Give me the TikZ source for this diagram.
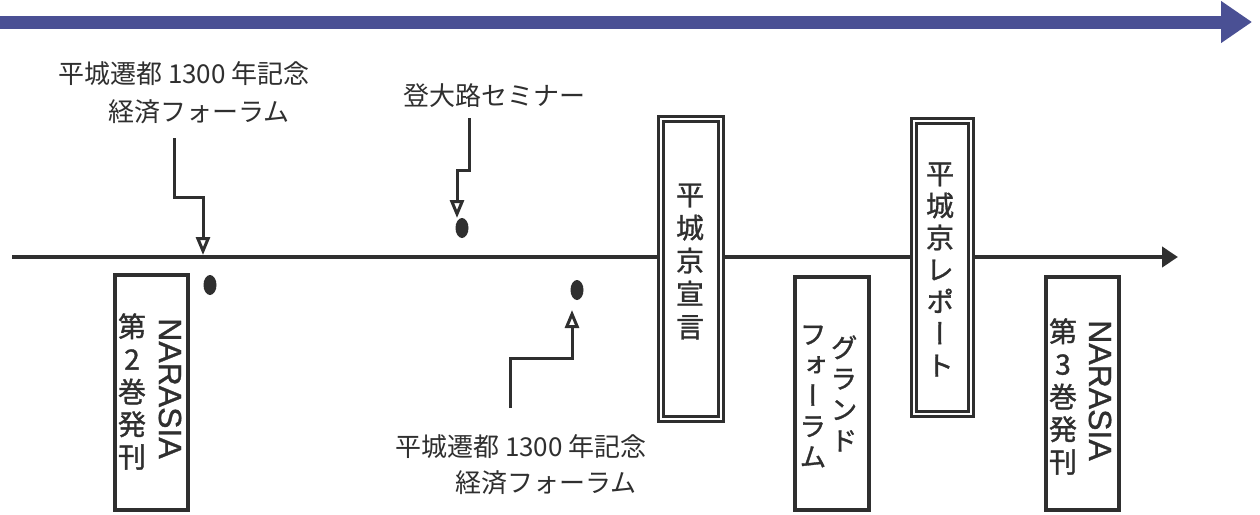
\documentclass[tikz,border=0pt]{standalone}
\usepackage{fontspec}
\setmainfont{Noto Sans CJK JP}
\newfontfamily\jp{Noto Sans CJK JP}
\newfontfamily\jpv[RawFeature=+vert,FakeBold=1.2]{Noto Sans CJK JP}
\newfontfamily\lat[FakeBold=1]{Liberation Sans}
\usetikzlibrary{arrows.meta,shapes.geometric}
\definecolor{ink}{HTML}{2F2F2F}
\definecolor{bandc}{HTML}{4A5094}
\begin{document}
\begin{tikzpicture}[x=1pt,y=-1pt,
  bandline/.style={draw=bandc, line width=13pt, -{Triangle[width=40pt,length=31pt]}},
  tline/.style={draw=ink, line width=4pt, -{Triangle[width=20pt,length=16pt]}},
  conn/.style={draw=ink, line width=3pt, -{Triangle[open,width=14pt,length=18pt]}},
  dotm/.style={ellipse, fill=ink, minimum width=13pt, minimum height=20pt, inner sep=0pt},
  sbox/.style={rectangle, draw=ink, line width=4.5pt, fill=white, inner sep=0pt},
  dbox/.style={rectangle, draw=ink, double=white, double distance=2.5pt, line width=2.8pt, fill=white, inner sep=0pt},
  vtxt/.style={align=center, inner sep=0pt, text=ink},
  rtxt/.style={rotate=-90, inner sep=0pt, text=ink, font=\fontsize{32}{32}\selectfont\lat},
  lbl/.style={align=left, inner sep=0pt, text=ink}]
\useasboundingbox (0,0) rectangle (1260,514);
\fill[white] (0,0) rectangle (1260,514);

% top band arrow
\coordinate (bandA) at (0,22);
\coordinate (bandB) at (1252,22);
\draw[bandline] (bandA) -- (bandB);

% timeline
\coordinate (tlA) at (12,257);
\coordinate (tlB) at (1178,257);
\draw[tline] (tlA) -- (tlB);

% dots
\node[dotm] (dot1) at (210,285) {};
\node[dotm] (dot2) at (462,228) {};
\node[dotm] (dot3) at (577,290) {};

% labels
\node[lbl, anchor=north west, font=\fontsize{26}{38}\selectfont\jp] (lab1) at (58,61)
  {平城遷都 1300 年記念\\\hspace*{50pt}経済フォーラム};
\node[lbl, anchor=west, font=\fontsize{26}{38}\selectfont\jp] (lab2) at (403,96) {登大路セミナー};
\node[lbl, anchor=north west, font=\fontsize{26}{36}\selectfont\jp] (lab3) at (395,434)
  {平城遷都 1300 年記念\\\hspace*{60pt}経済フォーラム};

% connectors
\coordinate (c1a) at (174,138);
\coordinate (c1b) at (203,255);
\draw[conn] (c1a) -- ++(0,59) -| (c1b);
\coordinate (c2a) at (469,118);
\coordinate (c2b) at (457,218);
\draw[conn] (c2a) -- ++(0,52) -| (c2b);
\coordinate (c3a) at (510,408);
\coordinate (c3b) at (572,310);
\draw[conn] (c3a) -- ++(0,-50) -| (c3b);

% boxes
\node[sbox, minimum width=73pt, minimum height=235pt] (box1) at (151.5,392.5) {};
\node[dbox, minimum width=60pt, minimum height=300pt] (box2) at (691,269) {};
\node[sbox, minimum width=74pt, minimum height=233pt] (box4) at (832,393.5) {};
\node[dbox, minimum width=57pt, minimum height=293pt] (box3) at (942.5,267.5) {};
\node[sbox, minimum width=73pt, minimum height=233pt] (box5) at (1082.5,393.5) {};

% box texts
\node[rtxt] (n1) at (170,388.5) {NARASIA};
\node[vtxt, font=\fontsize{28}{32.6}\selectfont\jpv] (v1) at (132,391.5) {第\\2\\巻\\発\\刊};
\node[vtxt, font=\fontsize{28}{33}\selectfont\jpv] (v2) at (690,261.5) {平\\城\\京\\宣\\言};
\node[vtxt, font=\fontsize{27}{31}\selectfont\jpv] (v4a) at (844,393.5) {グ\\ラ\\ン\\ド};
\node[vtxt, font=\fontsize{27}{30.6}\selectfont\jpv] (v4b) at (813,396.5) {フ\\ォ\\ー\\ラ\\ム};
\node[vtxt, font=\fontsize{28}{32}\selectfont\jpv] (v3) at (940,269.5) {平\\城\\京\\レ\\ポ\\ー\\ト};
\node[rtxt] (n5) at (1100,390.5) {NARASIA};
\node[vtxt, font=\fontsize{28}{32.6}\selectfont\jpv] (v5) at (1063,396.5) {第\\3\\巻\\発\\刊};
\end{tikzpicture}
\end{document}
